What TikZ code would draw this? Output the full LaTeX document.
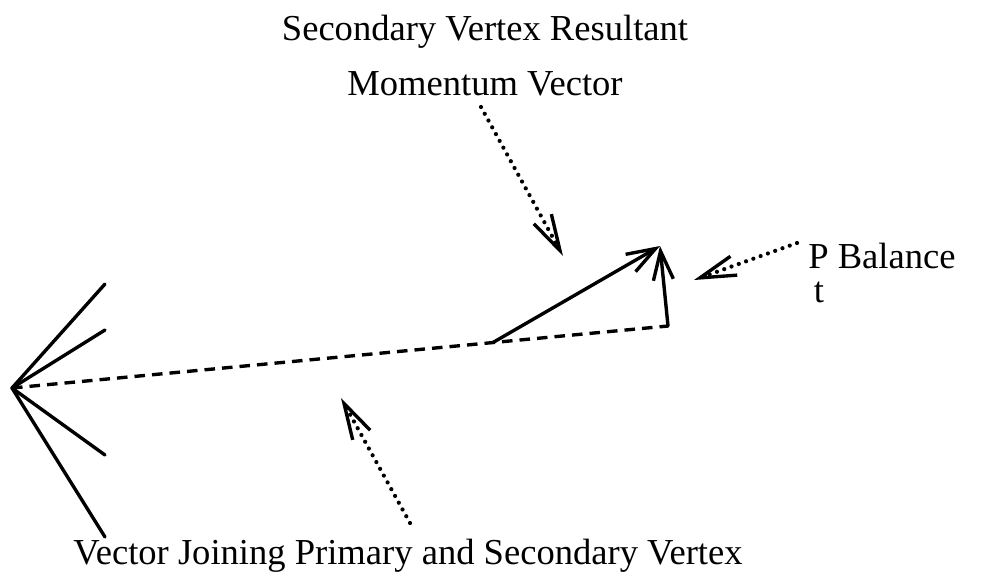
\documentclass[tikz,border=0pt]{standalone}
\usepackage{fontspec}
\setmainfont{Liberation Serif}
\usetikzlibrary{arrows.meta,calc}
\tikzset{
  jetline/.style={line width=2.4pt,line cap=round},
  flightline/.style={line width=2.4pt,dash pattern=on 7.5pt off 5pt},
  vecarrow/.style={line width=2.4pt,line cap=round,
    -{Straight Barb[length=0.72cm,width=0.5cm]}},
  pointer/.style={line width=3pt,line cap=round,dash pattern=on 0pt off 5.5pt,
    -{Straight Barb[length=0.9cm,width=0.5cm,line width=2.4pt]}},
  labeltext/.style={inner sep=0pt,font=\fontsize{26}{39}\selectfont},
}
\begin{document}
\begin{tikzpicture}[x=0.025cm,y=-0.025cm]
\useasboundingbox (0,0) rectangle (990,581);
% primary and secondary vertex
\coordinate (pv) at (12,388);
\coordinate (sv) at (668,326);
\coordinate (tip) at (660,246);
\coordinate (ms) at ($(pv)!0.733!(sv)$);
% tracks out of the primary vertex
\foreach \y [count=\i] in {284,330,455,537}{
  \coordinate (jet\i) at (105,\y);
  \draw[jetline] (pv) -- (jet\i);
}
\draw[flightline] (pv) -- (sv);
\draw[vecarrow] (ms) -- (tip);
\draw[vecarrow] (sv) -- (tip);
% labels
\node[labeltext,align=center,anchor=north] (mlabel) at (485,15) {Secondary Vertex Resultant\\Momentum Vector};
\node[labeltext,anchor=base west] (ptlabel) at (808,268) {\rlap{\hspace{0.15em}\raisebox{-0.95em}{t}}P Balance};
\node[labeltext,anchor=base] (jlabel) at (408,564) {Vector Joining Primary and Secondary Vertex};
% pointers
\coordinate (mfrom) at (481,107);
\coordinate (mto) at (563,256);
\coordinate (pfrom) at (797,243);
\coordinate (pto) at (694,280);
\coordinate (jfrom) at (410,523);
\coordinate (jto) at (341,398);
\draw[pointer] (mfrom) -- (mto);
\draw[pointer] (pfrom) -- (pto);
\draw[pointer] (jfrom) -- (jto);
\end{tikzpicture}
\end{document}
